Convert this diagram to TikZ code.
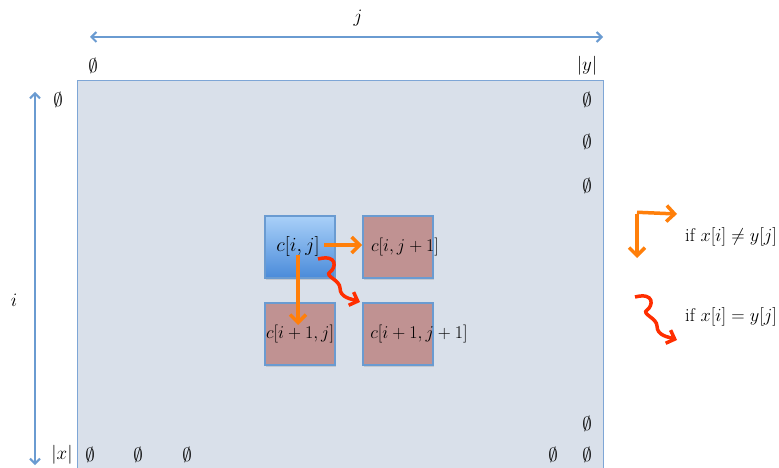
\RequirePackage{fix-cm}
\documentclass[tikz,border=0pt]{standalone}
\usetikzlibrary{arrows.meta,calc,shadows}
\definecolor{bgfill}{HTML}{D9E0EA}
\definecolor{bgline}{HTML}{7EA6D6}
\definecolor{axisblue}{HTML}{6A9BD1}
\definecolor{boxtop}{HTML}{A9D0F8}
\definecolor{boxbot}{HTML}{4A8BDA}
\definecolor{rosy}{HTML}{C09292}
\definecolor{orng}{HTML}{FF7F0A}
\definecolor{rred}{HTML}{FF2E00}
\newcommand\fsz[1]{\fontsize{#1}{#1}\selectfont}
\tikzset{
  axisarrow/.style={draw=axisblue, line width=2pt, {Straight Barb[length=5pt,width=10pt]}-{Straight Barb[length=5pt,width=10pt]}},
  cell/.style={draw=axisblue, line width=2pt, minimum width=70pt, minimum height=62pt, inner sep=0pt,
     drop shadow={opacity=0.25, shadow xshift=1pt, shadow yshift=-1.5pt}},
  cellpink/.style={cell, fill=rosy},
  cellblue/.style={cell, top color=boxtop, bottom color=boxbot},
  celltext/.style={font=\fsz{18}, inner sep=0pt},
  emptylab/.style={font=\fsz{19}, inner sep=0pt},
  orarrow/.style={draw=orng, line width=3.5pt, -{Straight Barb[length=8pt,width=16pt]}},
  rdarrow/.style={draw=rred, line width=3.5pt, -{Straight Barb[length=7pt,width=14pt]}},
  legtext/.style={font=\fsz{18.5}, anchor=west, inner sep=0pt},
}
\begin{document}
\begin{tikzpicture}[x=1pt,y=-1pt]
\useasboundingbox (0,0) rectangle (779,468);
\fill[white] (0,0) rectangle (779,468);
% table area
\draw[bgline, line width=1pt, fill=bgfill] (77,81) rectangle (603,480);
% axes
\coordinate (jl) at (90,37);
\coordinate (jr) at (603,37);
\draw[axisarrow] (jl) -- (jr);
\node[font=\fsz{19}] (jlab) at (358,18) {$j$};
\coordinate (it) at (35,92);
\coordinate (ib) at (35,465);
\draw[axisarrow] (it) -- (ib);
\node[font=\fsz{19}] (ilab) at (14,300) {$i$};
% border labels
\node[emptylab] (e0) at (93,66) {$\emptyset$};
\node[emptylab] (ylab) at (587,66) {$|y|$};
\node[emptylab] (e1) at (58,100) {$\emptyset$};
\node[emptylab] (e2) at (587,100) {$\emptyset$};
\node[emptylab] (e3) at (587,142) {$\emptyset$};
\node[emptylab] (e4) at (587,186) {$\emptyset$};
\node[emptylab] (e5) at (587,424) {$\emptyset$};
\node[emptylab] (e6) at (587,455) {$\emptyset$};
\node[emptylab] (e7) at (553,455) {$\emptyset$};
\node[emptylab] (e8) at (187,455) {$\emptyset$};
\node[emptylab] (e9) at (138,455) {$\emptyset$};
\node[emptylab] (e10) at (90,455) {$\emptyset$};
\node[emptylab] (xlab) at (62,455) {$|x|$};
% cells
\node[cellblue] (cij) at (300,247) {};
\node[cellpink] (cij1) at (398,247) {};
\node[cellpink] (ci1j) at (300,334) {};
\node[cellpink] (ci1j1) at (398,334) {};
\node[celltext, font=\fsz{20}] (tij) at (298,246) {$c[i,j]$};
\node[celltext] (tij1) at (405,247) {$c[i,j+1]$};
\node[celltext] (ti1j) at (300,334) {$c[i+1,j]$};
\node[celltext] (ti1j1) at (419,334) {$c[i+1,j+1]$};
% arrows
\coordinate (hstart) at ($(cij.east)+(-12,-2)$);
\coordinate (hend) at (hstart -| cij1.west);
\draw[orarrow] (hstart) -- (hend);
\coordinate (vstart) at ($(cij.center)+(-2,8)$);
\coordinate (vend) at ($(vstart)+(0,70)$);
\draw[orarrow] (vstart) -- (vend);
\coordinate (sq) at (318,259);
\draw[rdarrow] (sq) .. controls +(20,-5) and +(6,-4) .. ++(12,13)
   .. controls +(-6,4) and +(0,-8) .. ++(10,16)
   .. controls +(0,10) and +(-8,-3) .. ++(20,14);
% legend
\coordinate (lc) at (637,214);
\coordinate (lr) at (677,214);
\coordinate (ld) at (637,258);
\draw[orarrow] ($(lc)+(0,-1.75)$) -- (lr);
\draw[orarrow] (lc) -- (ld);
\node[legtext] (l1) at (685,237) {if $x[i]\neq y[j]$};
\coordinate (lsq) at (635,297);
\draw[rdarrow] (lsq) .. controls +(20,-5) and +(6,-4) .. ++(12,13)
   .. controls +(-6,4) and +(0,-8) .. ++(10,16)
   .. controls +(0,10) and +(-8,-3) .. ++(20,14);
\node[legtext] (l2) at (685,317) {if $x[i]=y[j]$};
\end{tikzpicture}
\end{document}
